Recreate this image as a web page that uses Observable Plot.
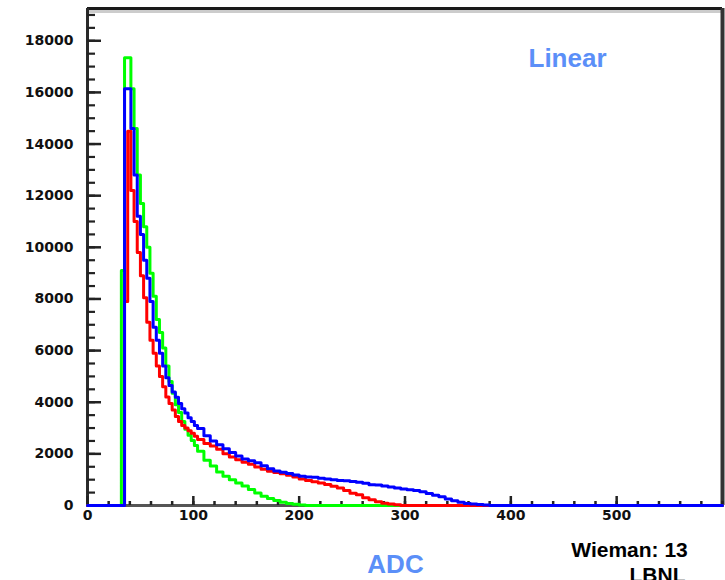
<!DOCTYPE html>
<html><head><meta charset="utf-8">
<script src="https://cdn.jsdelivr.net/npm/d3@7"></script>
<script src="https://cdn.jsdelivr.net/npm/@observablehq/plot@0.6"></script>
<style>body{margin:0;background:#fff} svg{display:block}</style>
</head><body><div id="chart"></div>
<script>
// Bin left edges (ADC)
const adcEdges = [32,35,38,41,44,47,50,53,56,59,62,65,68,71,74,77,80,83,86,89,92,95,98,101,104,
  110,116,122,128,134,140,146,152,158,164,170,176,182,188,194,200,206,212,218,224,230,236,242,248,254,
  260,266,272,278,284,290,296,302,308,314,320,326,332,338,344,350,356,362,368,374,380,386,392,398];

const greenCounts = [9100,17340,17340,16140,14600,12800,11700,10800,10000,9000,8100,7200,6700,6100,5400,4800,4350,3900,3600,3250,2950,2720,2520,2320,2100,
  1750,1530,1300,1130,1000,870,760,620,480,360,270,190,130,80,45,20,
  0,0,0,0,0,0,0,0,0,0,0,0,0,0,0,0,0,0,0,0,0,0,0,0,0,0,0,0,0,0,0,0,0];

const redCounts = [0,7900,14500,12200,11000,9800,8900,8050,7100,6400,5900,5400,5000,4600,4200,3950,3700,3450,3250,3100,3000,2900,2800,2680,2560,
  2400,2300,2180,2000,1880,1770,1680,1600,1490,1400,1330,1280,1230,1170,1100,1030,970,920,870,810,750,680,580,470,420,300,220,150,90,60,25,
  0,0,0,0,0,0,0,0,0,0,0,0,0,0,0,0,0,0];

const blueCounts = [0,16140,16140,14600,12800,11200,10500,9500,8800,7900,6900,6400,5900,5400,4950,4650,4400,4190,3950,3750,3580,3400,3250,3100,2980,
  2700,2500,2350,2200,2050,1920,1800,1730,1660,1540,1420,1340,1290,1240,1180,1130,1100,1090,1060,1030,1000,970,955,930,900,
  860,800,790,760,720,680,640,610,580,530,460,400,340,250,180,130,80,60,40,20,0,0,0,0];

const xMajor = [0,100,200,300,400,500];
const yMajor = [0,2000,4000,6000,8000,10000,12000,14000,16000,18000];
const xMinor = d3.range(0, 601, 20);
const yMinor = d3.range(0, 19001, 500);

function series(counts) {
  const pts = [{x: 0, y: 0}];
  adcEdges.forEach((e, i) => pts.push({x: e, y: counts[i]}));
  pts.push({x: 404, y: 0});
  pts.push({x: 600, y: 0});
  return pts;
}

const W = 725, H = 580, mL = 87, mR = 3, mT = 8, mB = 75;
const pw = W - mL - mR, ph = H - mT - mB;

const chart = Plot.plot({
  width: W, height: H,
  marginLeft: mL, marginRight: mR, marginTop: mT, marginBottom: mB,
  x: {domain: [0, 600]},
  y: {domain: [0, 19250]},
  style: {background: "white", fontFamily: "DejaVu Sans"},
  marks: [
    // frame
    Plot.ruleY([19250], {dy: 3, stroke: "#cccccc", strokeWidth: 3}),
    Plot.ruleY([19250], {stroke: "#1a1a1a", strokeWidth: 3}),
    Plot.ruleX([600], {stroke: "#333", strokeWidth: 4}),
    Plot.ruleX([0], {stroke: "#2a2a2a", strokeWidth: 3}),
    Plot.ruleY([0], {stroke: "#555", strokeWidth: 3}),
    // ticks (inside)
    Plot.tickY(yMinor, {y: d => d, insetRight: pw - 8, stroke: "#222", strokeWidth: 2.2}),
    Plot.tickY(yMajor, {y: d => d, insetRight: pw - 14, stroke: "#222", strokeWidth: 2.5}),
    Plot.tickX(xMinor, {x: d => d, insetTop: ph - 4, stroke: "#222", strokeWidth: 2.5}),
    Plot.tickX(xMajor, {x: d => d, insetTop: ph - 9, stroke: "#222", strokeWidth: 2.5}),
    // histograms
    Plot.line(series(greenCounts), {x: "x", y: "y", curve: "step-after", stroke: "#00ff00", strokeWidth: 3}),
    Plot.line(series(redCounts), {x: "x", y: "y", curve: "step-after", stroke: "#ff0000", strokeWidth: 3}),
    Plot.line(series(blueCounts), {x: "x", y: "y", curve: "step-after", stroke: "#0000ff", strokeWidth: 3}),
    // axes labels
    Plot.axisY(yMajor, {tickSize: 0, tickPadding: 14, tickFormat: d => String(d), fontSize: 14, fontWeight: "bold", fontFamily: "DejaVu Sans", fill: "#111", label: null}),
    Plot.axisX(xMajor, {tickSize: 0, tickPadding: 5, tickFormat: d => String(d), fontSize: 14, fontWeight: "bold", fontFamily: "DejaVu Sans", fill: "#111", label: null}),
    // annotations
    Plot.text(["Linear"], {frameAnchor: "top-left", dx: 441, dy: 40, textAnchor: "start", lineAnchor: "top", fill: "#5b8ff8", fontSize: 26, fontWeight: "bold", fontFamily: "Liberation Sans"}),
    Plot.text(["ADC"], {frameAnchor: "bottom-left", dx: 308, dy: 49, textAnchor: "middle", lineAnchor: "top", fill: "#5b8ff8", fontSize: 26, fontWeight: "bold", fontFamily: "Liberation Sans"}),
    Plot.text(["Wieman: 13"], {frameAnchor: "bottom-left", dx: 542, dy: 37, textAnchor: "middle", lineAnchor: "top", fill: "#000", fontSize: 21, fontWeight: "bold", fontFamily: "Liberation Sans"}),
    Plot.text(["LBNL"], {frameAnchor: "bottom-left", dx: 570, dy: 62, textAnchor: "middle", lineAnchor: "top", fill: "#000", fontSize: 21, fontWeight: "bold", fontFamily: "Liberation Sans"})
  ]
});
document.getElementById("chart").append(chart);
</script></body></html>
